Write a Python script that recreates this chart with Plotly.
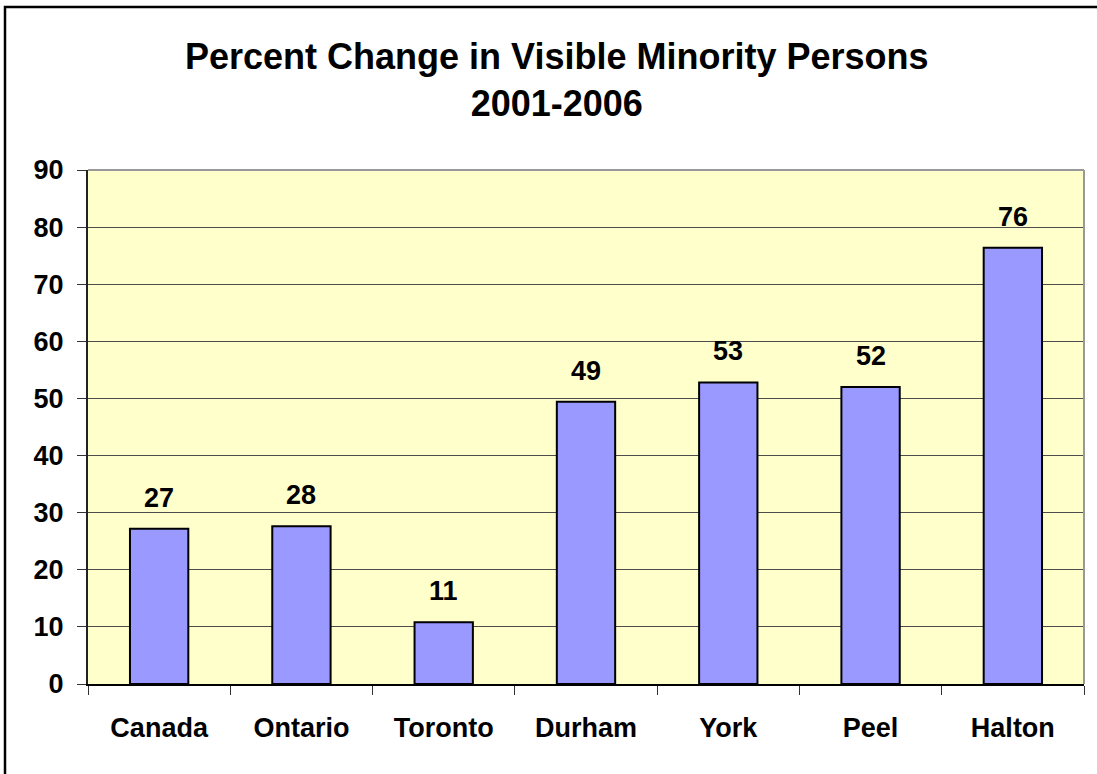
import plotly.graph_objects as go

regions = ['Canada', 'Ontario', 'Toronto', 'Durham', 'York', 'Peel', 'Halton']
pct_change = [27.2, 27.6, 10.8, 49.4, 52.8, 52.0, 76.4]
y_ticks = [0, 10, 20, 30, 40, 50, 60, 70, 80, 90]

FONT = 'Liberation Sans, Arial, sans-serif'

fig = go.Figure()
fig.add_trace(go.Bar(
    x = regions,
    y = pct_change,
    marker = dict(color = '#9999FF', line = dict(color = 'black', width = 2)),
    hoverinfo = 'x+y',
))

# value labels sit a bit higher than plotly's "outside" text
for r, v in zip(regions, pct_change):
    fig.add_annotation(
        x = r, y = v, text = '<b>%d</b>' % round(v),
        showarrow = False, yanchor = 'bottom', yshift = 14,
        font = dict(family = FONT, size = 27, color = 'black'),
    )

# two-line title, placed by hand
fig.add_annotation(
    xref = 'paper', yref = 'paper', x = 0.471, y = 1.175,
    xanchor = 'center', yanchor = 'middle', showarrow = False,
    text = '<b>Percent Change in Visible Minority Persons<br>2001-2006</b>',
    font = dict(family = FONT, size = 36, color = 'black'),
)

fig.update_layout(
    width = 1097, height = 774,
    margin = dict(l = 88, r = 13, t = 170, b = 90),
    paper_bgcolor = 'white',
    plot_bgcolor = '#FFFFCC',
    bargap = 0.59,
    showlegend = False,
    font = dict(family = FONT, color = 'black'),
)
fig.update_xaxes(
    tickson = 'boundaries', ticks = 'outside', ticklen = 9,
    tickcolor = '#333333', tickwidth = 1,
    showline = True, linecolor = 'black', linewidth = 2,
    ticklabelstandoff = 19,
    tickfont = dict(family = FONT, size = 27, weight = 'bold'),
    showgrid = False,
)
fig.update_yaxes(
    range = [0, 90], tickvals = y_ticks,
    ticks = 'outside', ticklen = 9, tickcolor = '#333333', tickwidth = 1,
    showline = True, linecolor = '#222222', linewidth = 2,
    ticklabelstandoff = 8,
    tickfont = dict(family = FONT, size = 27, weight = 'bold'),
    showgrid = True, gridcolor = '#4d4d4d', gridwidth = 1,
    zeroline = False,
)

# gray frame on top and right of the plot area
fig.add_shape(type = 'line', xref = 'paper', yref = 'paper',
              x0 = 0, x1 = 1, y0 = 1, y1 = 1,
              line = dict(color = '#999999', width = 2))
fig.add_shape(type = 'line', xref = 'paper', yref = 'paper',
              x0 = 1, x1 = 1, y0 = 0, y1 = 1,
              line = dict(color = '#999999', width = 2))
# outer chart border, cut off at the right and bottom
fig.add_shape(type = 'rect', xref = 'paper', yref = 'paper',
              x0 = (5 - 88) / 996, x1 = 1.03, y0 = -0.2, y1 = (684 - 7) / 514,
              line = dict(color = 'black', width = 2.5))

fig.write_html("out.html", config = {'displayModeBar': False},
               post_script = "document.body.style.margin = '0';")
